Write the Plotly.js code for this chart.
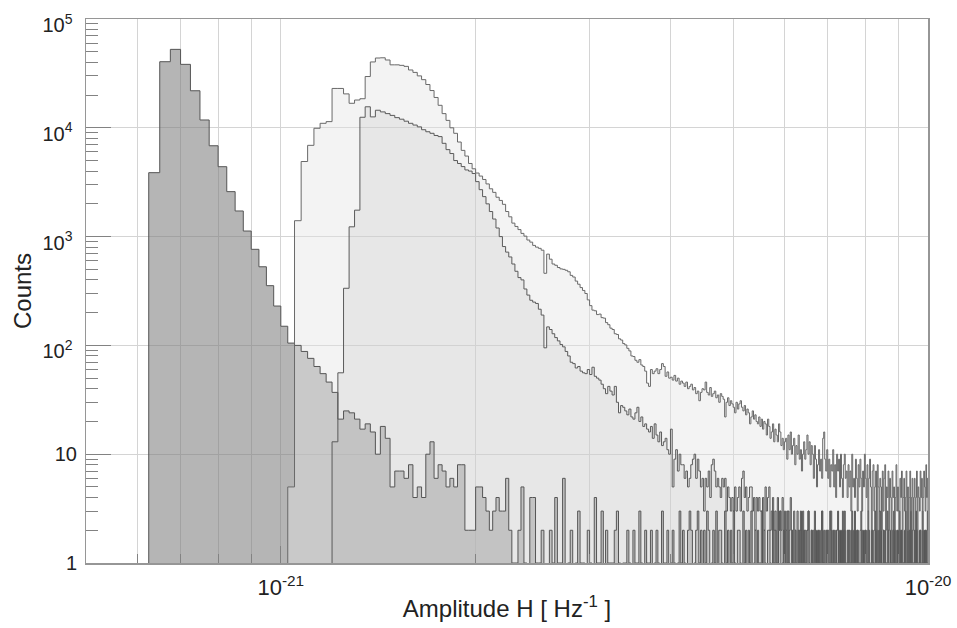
<!DOCTYPE html>
<html><head><meta charset="utf-8">
<script src="https://cdn.plot.ly/plotly-3.0.1.min.js"></script>
<style>html,body{margin:0;padding:0;background:#fff}#chart{width:957px;height:628px}</style>
</head><body><div id="chart"></div>
<script>
// Histogram binning: bin k covers [k*binWidth, (k+1)*binWidth)
const binWidth = 2.5e-23;
const firstBinA = 25;
const firstBinB = 41;
const firstBinC = 48;

// Series A (dark grey)
const countsA = [
 3870,40500,52600,38300,21900,11800,6840,4390,2590,1720,1125,764,528,354,230,150,105,
 100,88,76,64,55,46,37,
 21,25,24,21,17,19,16,10,18,14, 5,7,7,6,8,4,5,4,10,13, 6,8,7,5,6,5,8,8,2,2, 2,5,5,4,3,2,3,4,3,3, 6,2,
 1,1,2,5,1,0,4,4,1,1, 2,0,0,2,1,4,1,1,6,0,
 1,2,0,1,3,1,1,0,2,1, 0,4,1,1,3,0,2,1,1,1,
 2,3,1,0,1,1,2,1,0,2, 1,1,3,1,0,2,1,1,2,0,
 1,2,1,0,3,1,1,2,0,1, 2,1,0,1,3,1,2,1,0,2,
 3,2,0,1,2,3,1,2,0,2, 1,3,2,0,1,2,1,3,0,2,
 2,1,0,3,1,2,0,2,1,3, 1,0,2,2,1,0,3,1,2,0,
 2,1,3,0,1,2,0,2,1,1, 3,0,2,1,0,2,2,1,0,3,
 1,2,0,1,2,3,0,1,2,0, 2,1,3,1,0,2,0,1,2,1,
 0,2,1,3,0,1,2,1,0,2, 3,1,0,2,1,0,2,2,1,0,
 2,1,0,3,1,2,0,1,2,0, 1,3,2,0,1,2,1,0,2,3,
 1,0,2,1,2,0,3,1,0,2, 1,2,0,1,3,0,2,1,2,0,
 2,1,0,2,3,1,0,2,1,2, 0,1,3,2,0,1,2,0,1,2,
 3,1,0,2,1,2,0,3,1,0, 2,1,2,0,1,3,2,0,1,2,
 1,0,2,3,1,2,0,1,2,0, 3,1,2,0,2,1,0,2,3,1,
 0,2,1,2,0,3,1,2,0,1, 2,0,3,1,2,0,1,2,2,0,
 1,3,0,2,1,2,0,2,3
];

// Series B (light grey, upper curve)
const countsB = [
 5,1400,4900,6900,9900,11000,11400,23000,23000,20500,16800,18000,18500,29600,40300,43800,44000,42000,37900,37900,
 37500,36700,34000,32300,30000,27700,25000,22000,19000,16100,13500,11700,10000,8900,7400,6200,5500,4700,4200,3840,
 3600,3350,3050,2750,2550,2300,2150,1980,1700,1520,1330,1240,1160,1070,1010,930,890,830,800,780,
 750,460,690,620,560,545,520,505,500,490,475,440,425,390,365,340,320,300,262,232,
 211,208,192,194,180,178,162,155,144,140,128,126,115,112,104,101,94,89,80,79,
 73,70,74,66,64,58,45,42,60,55,58,61,55,60,68,64,52,57,50,51,
 48,53,47,50,44,47,45,42,46,40,42,44,39,41,36,38,31,37,40,39,
 46,37,35,41,34,36,38,33,35,30,36,34,32,22,30,33,28,31,29,27,
 24,30,26,29,31,27,25,28,23,26,24,19,22,25,21,23,20,19,22,18,
 21,17,20,19,15,21,18,14,16,19,13,17,15,13,19,16,12,14,11,13,
 14,9,15,11,16,10,12,14,8,12,10,15,9,11,7,10,13,9,11,15,
 10,13,8,12,10,6,12,9,5,8,11,7,9,6,14,16,9,7,11,6,
 9,5,8,7,11,5,8,4,10,7,9,5,10,6,4,8,10,6,7,4,
 8,5,7,3,10,5,6,4,9,6,3,8,5,9,6,3,7,5,10,6,
 4,8,3,6,9,5,2,7,8,3,5,7,2,8,5,3,6,5,2,7,
 3,6,8,2,5,4,7,2,6,4,2,7,4,5,2,4,8,3,5,3,
 2,6,4,7,2,4,6,3,4,7,2,5,2,4,7,3,4,6,2,4,
 6,2,4,7,2,5,4,3,7,4,6,2,4,7,5,3,8,4,6
];

// Series C (dotted, lower curve)
const countsC = [
 13,56,335,1230,1750,12500,15600,12600,14500,14000,13500,13000,12400,
 12000,11500,11000,10600,10200,9600,9200,8900,8500,8300,7200,6300,5800,5000,4700,4400,4100,4000,3800,3200,
 2700,2330,2000,1700,1450,1200,1000,810,720,650,560,480,420,400,330,290,260,250,243,215,
 190,95,148,140,128,118,110,102,97,88,80,70,68,62,64,58,56,55,60,54,
 63,52,50,48,44,40,36,42,38,35,42,30,24,28,27,25,23,26,22,21,
 24,27,20,22,18,19,17,16,18,14,19,15,13,16,12,13,14,11,10,17,
 5,9,11,7,10,8,8,6,7,5,6,8,9,10,6,9,7,5,6,3,
 6,5,7,4,8,9,7,5,6,5,4,6,5,6,3,5,4,3,4,3,
 5,3,4,5,3,6,7,4,5,3,4,5,5,3,4,2,4,3,4,3,
 3,4,2,5,3,4,5,2,3,4,2,3,1,4,2,3,2,4,1,3,
 2,3,1,2,4,2,1,3,2,0,3,1,2,2,1,3,0,2,1,2,
 3,1,0,2,1,2,3,0,1,2,1,0,2,3,1,1,0,2,1,2,
 0,1,3,1,2,0,1,2,1,0,2,1,1,0,3,1,2,0,1,1,
 2,0,1,2,0,1,1,3,0,1,2,0,1,1,0,2,1,0,1,2,
 0,1,2,1,0,1,0,2,1,1,0,2,1,0,1,3,0,1,1,0,
 2,1,0,1,1,0,2,0,1,1,0,1,2,0,1,0,1,2,0,1,
 1,0,2,1,0,1,1,0,2,0,1,1,0,1,2,0,1,0,1,1,
 0,2,1,0,1,1,0,1,2,0,1,0,1,1,0,2,1,0,1
];

// Axis ticks
const xRange = [5e-22, 1e-20];
const yRange = [1, 1e5];
const xMajorVals = [1e-21, 1e-20];
const xMajorText = ['10<sup>-21</sup>', '10<sup>-20</sup>'];
const xMinorVals = [6e-22,7e-22,8e-22,9e-22,2e-21,3e-21,4e-21,5e-21,6e-21,7e-21,8e-21,9e-21];
const yPowerVals = [100, 1000, 10000, 100000];
const yPowerText = ['10<sup>2</sup>', '10<sup>3</sup>', '10<sup>4</sup>', '10<sup>5</sup>'];
const yPlainVals = [1, 10];
const yPlainText = ['1', '10'];
const yMinorVals = [2,3,4,5,6,7,8,9, 20,30,40,50,60,70,80,90, 200,300,400,500,600,700,800,900,
  2000,3000,4000,5000,6000,7000,8000,9000, 20000,30000,40000,50000,60000,70000,80000,90000];

const FLOOR = 1e-3; // drawn below the axis for empty bins
function stepPath(firstBin, counts) {
  const x = [], y = [];
  x.push(firstBin * binWidth); y.push(FLOOR);
  counts.forEach((c, i) => { x.push((firstBin + i) * binWidth); y.push(c > 0 ? c : FLOOR); });
  const last = counts[counts.length - 1];
  const xe = (firstBin + counts.length) * binWidth;
  x.push(xe); y.push(last > 0 ? last : FLOOR);
  x.push(xe); y.push(FLOOR);
  return {x, y};
}
const pA = stepPath(firstBinA, countsA);
const pB = stepPath(firstBinB, countsB);
const pC = stepPath(firstBinC, countsC);

function fillTrace(p, color) {
  return {x: p.x, y: p.y, type: 'scatter', mode: 'lines', line: {shape: 'hv', width: 0},
    fill: 'toself', fillcolor: color, hoverinfo: 'skip', showlegend: false};
}
function lineTrace(p, color, xa, ya) {
  return {x: p.x, y: p.y, xaxis: xa, yaxis: ya, type: 'scatter', mode: 'lines',
    line: {shape: 'hv', width: 1, color: color}, hoverinfo: 'skip', showlegend: false};
}

const data = [
  fillTrace(pA, 'rgba(120,120,120,0.55)'),
  fillTrace(pB, 'rgba(227,227,227,0.43)'),
  fillTrace(pC, 'rgba(164,164,164,0.14)'),
  lineTrace(pA, 'rgb(85,85,85)', 'x2', 'y2'),
  lineTrace(pB, 'rgb(105,105,105)', 'x2', 'y2'),
  lineTrace(pC, 'rgb(90,90,90)', 'x2', 'y3')
];

const lx = [Math.log10(xRange[0]), Math.log10(xRange[1])];
const ly = [Math.log10(yRange[0]), Math.log10(yRange[1])];
const gridCol = 'rgb(212,212,212)';
const tickCol = 'rgb(130,130,130)';
const fontFam = 'Liberation Sans, Arial, Helvetica, sans-serif';

const layout = {
  width: 957, height: 628,
  margin: {l: 86, r: 29, t: 19, b: 65},
  paper_bgcolor: '#ffffff', plot_bgcolor: '#ffffff',
  showlegend: false,
  font: {family: fontFam, color: '#222'},
  xaxis: {type: 'log', range: lx, tickmode: 'array', tickvals: xMajorVals, ticktext: xMajorText,
    ticks: 'inside', ticklen: 17, tickwidth: 1, tickcolor: tickCol,
    showgrid: true, gridcolor: gridCol, gridwidth: 1, zeroline: false,
    showline: true, linecolor: 'rgb(150,150,150)', linewidth: 1.5, mirror: true,
    tickfont: {size: 22, color: '#222'}, ticklabelstandoff: 4,
    title: {text: 'Amplitude H [ Hz<sup>-1</sup> ]', font: {size: 24, color: '#222'}, standoff: 1},
    automargin: false, fixedrange: true},
  xaxis2: {type: 'log', range: lx, overlaying: 'x', anchor: 'y', side: 'bottom',
    tickmode: 'array', tickvals: xMinorVals, showticklabels: false,
    ticks: 'inside', ticklen: 9, tickwidth: 1, tickcolor: tickCol,
    showgrid: true, gridcolor: gridCol, gridwidth: 1, zeroline: false, showline: false,
    automargin: false, fixedrange: true},
  yaxis: {type: 'log', range: ly, tickmode: 'array', tickvals: yPowerVals, ticktext: yPowerText,
    ticks: 'inside', ticklen: 25, tickwidth: 1, tickcolor: tickCol,
    showgrid: true, gridcolor: gridCol, gridwidth: 1, zeroline: false,
    showline: true, linecolor: 'rgb(150,150,150)', linewidth: 1.5, mirror: true,
    tickfont: {size: 20, color: '#222'}, ticklabelstandoff: 8, ticklabelshift: 6,
    title: {text: 'Counts', font: {size: 24, color: '#222'}, standoff: 4},
    automargin: false, fixedrange: true},
  yaxis2: {type: 'log', range: ly, overlaying: 'y', anchor: 'x', side: 'left',
    tickmode: 'array', tickvals: yMinorVals, showticklabels: false,
    ticks: 'inside', ticklen: 12, tickwidth: 1, tickcolor: tickCol,
    showgrid: false, zeroline: false, showline: false, automargin: false, fixedrange: true},
  yaxis3: {type: 'log', range: ly, overlaying: 'y', anchor: 'x', side: 'left',
    tickmode: 'array', tickvals: yPlainVals, ticktext: yPlainText,
    ticks: 'inside', ticklen: 25, tickwidth: 1, tickcolor: tickCol,
    showgrid: true, gridcolor: gridCol, gridwidth: 1, zeroline: false, showline: false,
    tickfont: {size: 20, color: '#222'}, ticklabelstandoff: 8,
    automargin: false, fixedrange: true}
};

Plotly.newPlot('chart', data, layout, {displayModeBar: false, staticPlot: true});
</script>
</body></html>
